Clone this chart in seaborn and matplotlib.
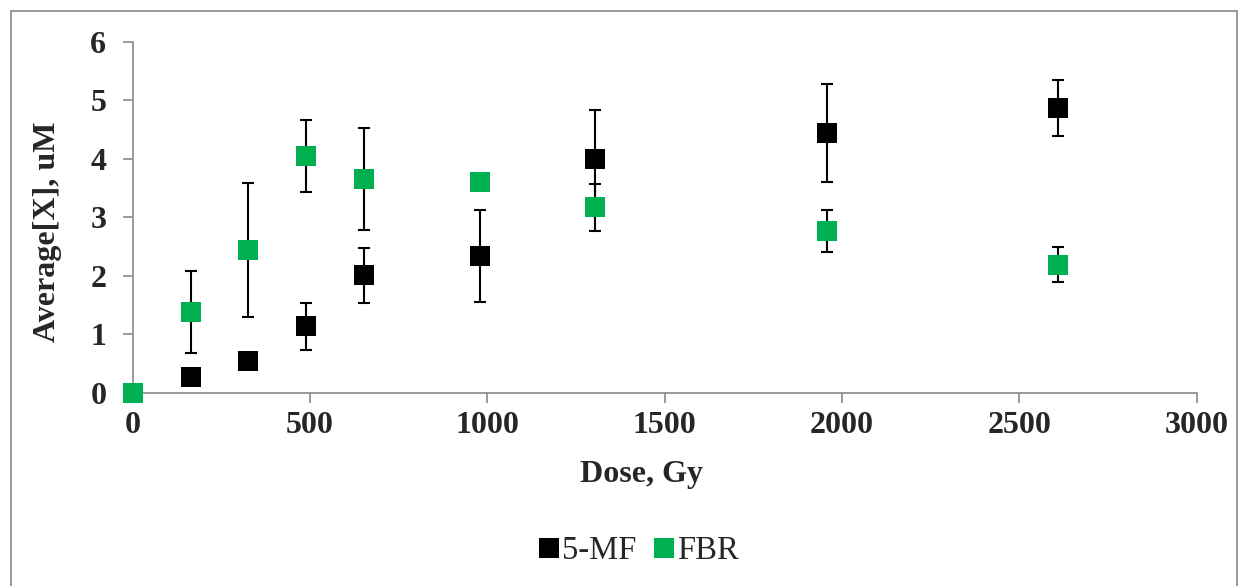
import numpy as np
import pandas as pd
import matplotlib
matplotlib.use("Agg")
import matplotlib.pyplot as plt
import matplotlib.patches as mpatches
from matplotlib.lines import Line2D
import seaborn as sns

# ---------------- DATA ----------------
dose = [0, 163, 326, 489, 652, 978, 1304, 1957, 2609]

mf_mean = [0.0, 0.27, 0.55, 1.14, 2.01, 2.34, 3.99, 4.44, 4.87]
mf_err = [0.0, 0.04, 0.06, 0.40, 0.47, 0.78, 0.85, 0.84, 0.48]

fbr_mean = [0.0, 1.39, 2.44, 4.05, 3.65, 3.60, 3.17, 2.76, 2.19]
fbr_err = [0.0, 0.70, 1.14, 0.61, 0.87, 0.0, 0.40, 0.36, 0.30]

series_names = ["5-MF", "FBR"]
series_colors = {"5-MF": "#000000", "FBR": "#00B050"}
x_ticks = [0, 500, 1000, 1500, 2000, 2500, 3000]
y_ticks = [0, 1, 2, 3, 4, 5, 6]
# --------------------------------------

df = pd.concat([
    pd.DataFrame({"dose": dose, "value": mf_mean, "err": mf_err, "series": "5-MF"}),
    pd.DataFrame({"dose": dose, "value": fbr_mean, "err": fbr_err, "series": "FBR"}),
], ignore_index=True)

sns.set_style("white")
plt.rcParams["font.family"] = ["Liberation Serif", "DejaVu Serif"]

fig = plt.figure(figsize=(12.48, 5.86), dpi=100)
ax = fig.add_axes([132.7 / 1248, 1 - 393 / 586, 1064 / 1248, 351.3 / 586])

# series 1 first, series 2 on top (markers above their own error bars)
z = 2
for name in series_names:
    sub = df[df["series"] == name]
    ax.errorbar(sub["dose"], sub["value"], yerr=sub["err"], fmt="none",
                ecolor="black", elinewidth=1.5, capsize=4.3, capthick=1.5,
                zorder=z, clip_on=False)
    sns.scatterplot(data=sub, x="dose", y="value", marker="s", s=205,
                    color=series_colors[name], linewidth=0, ax=ax,
                    zorder=z + 1, clip_on=False, legend=False)
    z += 2

ax.set_xlim(0, 3000)
ax.set_ylim(0, 6)
ax.set_xticks(x_ticks)
ax.set_yticks(y_ticks)
ax.set_xticklabels([str(t) for t in x_ticks], fontsize=23, fontweight="bold")
ax.set_yticklabels([str(t) for t in y_ticks], fontsize=23, fontweight="bold")

for side in ["top", "right"]:
    ax.spines[side].set_visible(False)
for side in ["left", "bottom"]:
    ax.spines[side].set_color("#898989")
    ax.spines[side].set_linewidth(1.2)

ax.tick_params(axis="x", direction="out", length=7, width=1.2, color="#898989",
               pad=6, bottom=True)
ax.tick_params(axis="y", direction="out", length=7, width=1.2, color="#898989",
               pad=12, left=True)

ax.set_xlabel("Dose, Gy", fontsize=23, fontweight="bold")
ax.set_ylabel("Average[X], uM", fontsize=23, fontweight="bold")
ax.xaxis.set_label_coords(0.478, -0.19)
ax.yaxis.set_label_coords(-0.066, 0.46)

handles = [Line2D([], [], marker="s", linestyle="none", markersize=14.4,
                  markerfacecolor=series_colors[n], markeredgewidth=0)
           for n in series_names]
fig.legend(handles, series_names, loc="center", bbox_to_anchor=(0.512, 0.06),
           ncol=2, frameon=False, fontsize=23.5, handlelength=0.6,
           handletextpad=0.1, columnspacing=0.55)

# outer chart border
border = mpatches.Rectangle((11 / 1248, -0.02), 1226 / 1248, 1 - 11 / 586 + 0.02,
                            transform=fig.transFigure, fill=False,
                            edgecolor="#898989", linewidth=1.2, clip_on=False)
fig.patches.append(border)

fig.savefig("out.png", dpi=100)
